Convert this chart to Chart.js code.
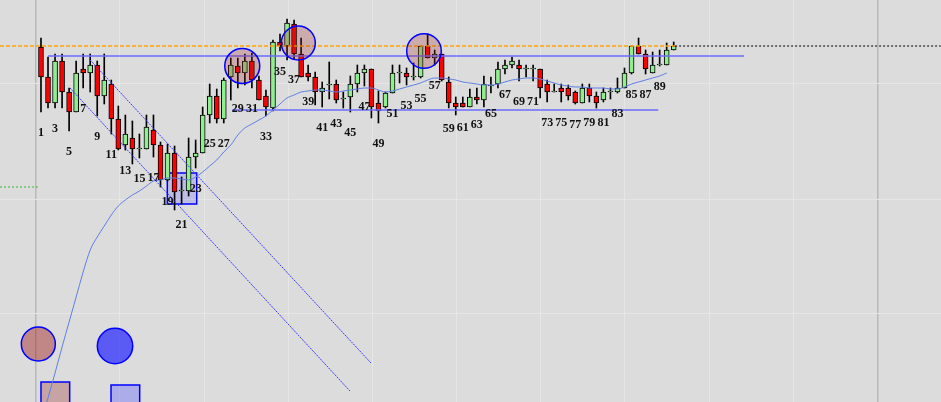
<!DOCTYPE html>
<html>
<head>
<meta charset="utf-8">
<script src="https://cdn.jsdelivr.net/npm/chart.js@4.4.1/dist/chart.umd.min.js"></script>
<style>
  html, body { margin: 0; padding: 0; background: #dcdcdc; overflow: hidden; }
  canvas { display: block; }
</style>
</head>
<body>
<canvas id="chart" width="941" height="402"></canvas>
<script>
// OHLC per bar (bar 1 .. 91)
var opens = [4.53,4.23,3.97,4.39,4.08,3.88,4.31,4.27,4.35,4.04,
             4.16,3.81,3.55,3.62,3.51,3.51,3.70,3.55,3.20,3.47,
             3.09,3.09,3.43,3.47,3.85,4.04,3.81,4.23,4.34,4.27,
             4.39,4.20,4.04,3.92,4.58,4.54,4.76,4.46,4.27,4.23,
             4.08,4.15,4.16,4.01,4.03,4.16,4.27,4.31,3.97,3.93,
             4.07,4.27,4.27,4.23,4.23,4.54,4.42,4.46,4.18,3.97,
             3.97,3.93,4.03,4.00,4.14,4.16,4.31,4.35,4.35,4.31,
             4.31,4.31,4.16,4.08,4.12,4.12,4.08,3.97,4.12,4.04,
             4.00,4.08,4.08,4.12,4.27,4.54,4.46,4.27,4.35,4.35,
             4.50];
var closes = [4.23,3.97,4.39,4.08,3.88,4.27,4.27,4.35,4.04,4.20,
              3.81,3.51,3.66,3.51,3.51,3.73,3.55,3.20,3.47,3.08,
              3.09,3.43,3.47,3.85,4.04,3.81,4.20,4.35,4.27,4.39,
              4.20,4.00,3.93,4.58,4.54,4.77,4.46,4.23,4.23,4.08,
              4.12,4.15,4.00,4.01,4.16,4.27,4.31,3.93,3.89,4.07,
              4.27,4.27,4.23,4.23,4.54,4.42,4.46,4.20,3.97,3.93,
              3.93,4.03,4.00,4.16,4.14,4.31,4.35,4.39,4.31,4.31,
              4.31,4.12,4.08,4.08,4.08,4.04,3.97,4.12,4.04,3.97,
              4.08,4.08,4.12,4.27,4.54,4.46,4.31,4.35,4.35,4.50,
              4.54];
var highs = [4.62,4.43,4.46,4.46,4.12,4.39,4.46,4.46,4.39,4.46,
             4.20,3.94,3.85,3.79,3.66,3.85,3.85,3.58,3.56,3.54,
             3.23,3.62,3.60,3.93,4.16,4.11,4.22,4.42,4.42,4.46,
             4.47,4.24,4.10,4.60,4.66,4.81,4.80,4.62,4.35,4.28,
             4.18,4.38,4.20,4.08,4.24,4.35,4.35,4.31,4.09,4.08,
             4.35,4.35,4.32,4.37,4.54,4.66,4.50,4.46,4.23,4.03,
             4.03,4.11,4.12,4.24,4.23,4.38,4.40,4.43,4.40,4.35,
             4.35,4.31,4.20,4.16,4.16,4.15,4.09,4.16,4.16,4.08,
             4.12,4.12,4.22,4.32,4.54,4.62,4.50,4.48,4.50,4.57,
             4.58];
var lows = [3.88,3.92,3.92,3.92,3.69,3.88,4.12,4.08,3.84,3.96,
            3.66,3.50,3.50,3.36,3.42,3.51,3.43,3.13,3.19,2.90,
            2.96,3.04,3.32,3.47,3.77,3.77,3.77,4.00,4.12,4.15,
            4.12,4.00,3.84,3.89,4.49,4.40,4.41,4.23,4.19,3.95,
            3.93,4.01,3.97,3.92,3.88,4.08,4.14,3.82,3.77,3.92,
            4.07,4.17,4.15,4.20,4.22,4.42,4.35,4.19,3.92,3.85,
            3.93,3.93,3.96,3.93,4.07,4.12,4.26,4.32,4.19,4.23,
            4.19,4.02,3.98,4.08,3.98,4.00,3.96,3.97,3.98,3.92,
            3.98,4.01,4.07,4.12,4.26,4.46,4.26,4.27,4.34,4.35,
            4.50];

// moving average (bar 1 .. 90)
var ma = [0.76,1.02,1.27,1.53,1.78,2.03,2.28,2.50,2.63,2.74,
          2.85,2.94,3.00,3.05,3.09,3.14,3.19,3.20,3.22,3.22,
          3.21,3.20,3.23,3.28,3.34,3.40,3.48,3.55,3.65,3.72,
          3.76,3.80,3.84,3.90,3.96,4.02,4.05,4.08,4.09,4.10,
          4.10,4.09,4.08,4.09,4.10,4.11,4.12,4.12,4.10,4.08,
          4.09,4.11,4.13,4.15,4.17,4.20,4.22,4.22,4.21,4.20,
          4.18,4.17,4.16,4.15,4.15,4.16,4.18,4.20,4.21,4.22,
          4.22,4.21,4.19,4.17,4.15,4.14,4.13,4.13,4.12,4.12,
          4.12,4.11,4.11,4.13,4.16,4.18,4.20,4.22,4.24,4.27];

// price levels and their bar spans
var levelTop = 4.54,   levelTopSpan = [-4.83, 91.2], levelTopRest = [91.2, 129];
var levelHigh = 4.44,  levelHighSpan = [2.0, 101.0];
var levelLow = 3.90,   levelLowSpan = [28.2, 88.8];
var levelGreen = 3.13, levelGreenSpan = [-4.83, 0.57];

// trend channel (bar, price)
var trendAx = [8.0, 47.94],  trendAy = [4.40, 1.37];
var trendBx = [5.13, 44.95], trendBy = [4.12, 1.09];

// marked zones
var circleX = [29.63, 37.6, 55.48, 0.62, 11.53];
var circleY = [4.34, 4.57, 4.49, 1.56, 1.54];
var boxX1 = [18.97, 1.0, 10.96], boxX2 = [23.15, 5.08, 15.04];
var boxY1 = [3.27, 1.18, 1.15],  boxY2 = [2.96, 0.70, 0.70];

// grid positions (bar units / price units)
var gridX = [0.25, 12.22, 24.19, 36.16, 48.13, 60.10, 72.08, 84.05, 96.02, 107.99, 119.96];
var gridY = [4.16, 3.01, 1.87];

var bars = opens.map(function(v, i) { return i + 1; });

function seg(xs, y) {
  return xs.map(function(x) { return { x: x, y: y }; });
}
function line2(xs, ys) {
  return xs.map(function(x, i) { return { x: x, y: ys[i] }; });
}

var bgPlugin = {
  id: 'bg',
  beforeDraw: function(chart) {
    var c = chart.ctx;
    c.save();
    c.fillStyle = '#dcdcdc';
    c.fillRect(0, 0, chart.width, chart.height);
    c.restore();
  }
};

var boxFills = ['rgba(100,100,255,0.25)', 'rgba(160,60,60,0.35)', 'rgba(100,100,255,0.4)'];
var boxPlugin = {
  id: 'boxes',
  beforeDatasetsDraw: function(chart) {
    var c = chart.ctx, xs = chart.scales.x, ys = chart.scales.y;
    c.save();
    for (var i = 0; i < boxX1.length; i++) {
      var x1 = xs.getPixelForValue(boxX1[i]), x2 = xs.getPixelForValue(boxX2[i]);
      var y1 = ys.getPixelForValue(boxY1[i]), y2 = ys.getPixelForValue(boxY2[i]);
      c.fillStyle = boxFills[i];
      c.fillRect(x1, y1, x2 - x1, y2 - y1);
      c.strokeStyle = '#0000ff';
      c.lineWidth = 1.5;
      c.strokeRect(x1, y1, x2 - x1, y2 - y1);
    }
    c.restore();
  }
};

var labelPlugin = {
  id: 'barNumbers',
  afterDatasetsDraw: function(chart) {
    var c = chart.ctx, xs = chart.scales.x, ys = chart.scales.y;
    c.save();
    c.font = 'bold 12px "Liberation Serif", "Times New Roman", serif';
    c.fillStyle = '#111';
    c.textAlign = 'center';
    c.textBaseline = 'middle';
    bars.forEach(function(b, i) {
      if (b % 2 === 1 && b < 90) {
        c.fillText(String(b), xs.getPixelForValue(b), ys.getPixelForValue(lows[i]) + 21);
      }
    });
    c.restore();
  }
};

var ctx = document.getElementById('chart').getContext('2d');

var chart = new Chart(ctx, {
  type: 'bar',
  data: {
    datasets: [
      {
        // zone circles
        type: 'scatter',
        data: line2(circleX, circleY),
        pointRadius: [17.5, 17, 17.3, 17, 17.7],
        pointBackgroundColor: ['rgba(160,40,40,0.27)', 'rgba(160,40,40,0.27)', 'rgba(160,40,40,0.27)',
                               'rgba(160,30,30,0.45)', 'rgba(40,40,255,0.72)'],
        pointBorderColor: '#0000ff',
        pointBorderWidth: 1.5,
        order: 0
      },
      {
        type: 'line',
        data: ma.map(function(v, i) { return { x: bars[i], y: v }; }),
        borderColor: '#5f7fe8',
        borderWidth: 1,
        pointRadius: 0,
        cubicInterpolationMode: 'monotone',
        order: 1
      },
      {
        type: 'line', data: seg(levelTopSpan, levelTop),
        borderColor: '#ffa500', borderWidth: 1.5, borderDash: [4, 2], pointRadius: 0, order: 1
      },
      {
        type: 'line', data: seg(levelTopRest, levelTop),
        borderColor: '#000000', borderWidth: 1, borderDash: [2, 2], pointRadius: 0, order: 1
      },
      {
        type: 'line', data: seg(levelHighSpan, levelHigh),
        borderColor: '#6b6bff', borderWidth: 1.5, pointRadius: 0, order: 1
      },
      {
        type: 'line', data: seg(levelLowSpan, levelLow),
        borderColor: '#6b6bff', borderWidth: 1.5, pointRadius: 0, order: 1
      },
      {
        type: 'line', data: seg(levelGreenSpan, levelGreen),
        borderColor: '#33bb33', borderWidth: 1, borderDash: [2, 2], pointRadius: 0, order: 1
      },
      {
        type: 'line', data: line2(trendAx, trendAy),
        borderColor: '#3a3aff', borderWidth: 1, borderDash: [2, 1], pointRadius: 0, order: 1
      },
      {
        type: 'line', data: line2(trendBx, trendBy),
        borderColor: '#3a3aff', borderWidth: 1, borderDash: [2, 1], pointRadius: 0, order: 1
      },
      {
        // candle bodies
        data: bars.map(function(b, i) { return { x: b, y: [opens[i], closes[i]] }; }),
        backgroundColor: bars.map(function(b, i) { return closes[i] >= opens[i] ? '#90ee90' : '#ff0000'; }),
        borderColor: '#000000',
        borderWidth: 1,
        borderSkipped: false,
        barThickness: 5,
        minBarLength: 1,
        grouped: false,
        order: 5
      },
      {
        // wicks
        data: bars.map(function(b, i) { return { x: b, y: [lows[i], highs[i]] }; }),
        backgroundColor: '#000000',
        borderWidth: 0,
        barThickness: 1,
        grouped: false,
        order: 6
      }
    ]
  },
  options: {
    responsive: false,
    animation: false,
    layout: { padding: 0, autoPadding: false },
    plugins: {
      legend: { display: false },
      tooltip: { enabled: false }
    },
    scales: {
      x: {
        type: 'linear',
        min: -4.83,
        max: 129.02,
        offset: false,
        afterBuildTicks: function(scale) {
          scale.ticks = gridX.map(function(v) { return { value: v }; });
        },
        ticks: { display: false },
        border: { display: false },
        grid: {
          offset: false,
          drawTicks: false,
          color: function(c) { return (c.index === 0 || c.index === 10) ? '#b8b8b8' : '#e6e6e6'; },
          lineWidth: function(c) { return (c.index === 0 || c.index === 10) ? 1.5 : 1; }
        }
      },
      y: {
        type: 'linear',
        min: 0.98,
        max: 5.0,
        afterBuildTicks: function(scale) {
          scale.ticks = gridY.map(function(v) { return { value: v }; });
        },
        ticks: { display: false },
        border: { display: false },
        grid: { drawTicks: false, color: '#e6e6e6' }
      }
    }
  },
  plugins: [bgPlugin, boxPlugin, labelPlugin]
});
</script>
</body>
</html>
